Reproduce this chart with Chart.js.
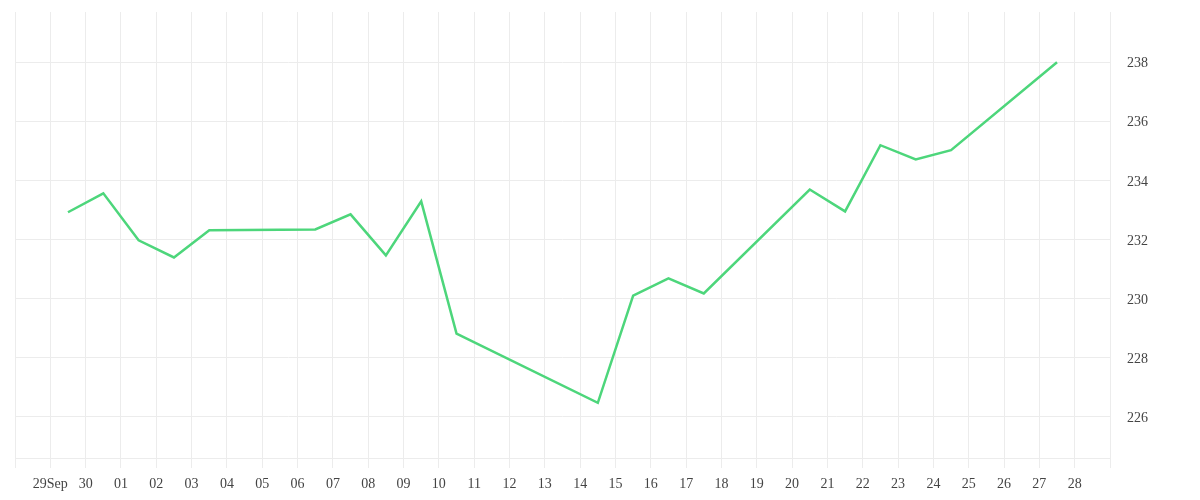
<!DOCTYPE html>
<html>
<head>
<meta charset="utf-8">
<script src="https://cdn.jsdelivr.net/npm/chart.js@4/dist/chart.umd.min.js"></script>
<style>
html,body{margin:0;padding:0;background:#fff;}
#wrap{width:1200px;height:500px;position:relative;}
</style>
</head>
<body>
<div id="wrap"><canvas id="c" width="1200" height="500"></canvas></div>
<script>
// Trading dates (point plotted at midday of each date)
const dates = ["2014-09-29","2014-09-30","2014-10-01","2014-10-02","2014-10-03",
  "2014-10-06","2014-10-07","2014-10-08","2014-10-09","2014-10-10",
  "2014-10-14","2014-10-15","2014-10-16","2014-10-17",
  "2014-10-20","2014-10-21","2014-10-22","2014-10-23","2014-10-24",
  "2014-10-27"];
const values = [232.92,233.56,231.97,231.39,232.31,
  232.34,232.85,231.46,233.29,228.81,
  226.47,230.10,230.68,230.17,
  233.69,232.95,235.19,234.71,235.02,
  238.00];
// x tick labels from 28 Sep (edge) to 29 Oct (edge)
const xTickLabels = ["","29Sep","30","01","02","03","04","05","06","07","08","09","10",
  "11","12","13","14","15","16","17","18","19","20","21","22","23","24","25","26","27","28",""];
const yTickValues = [226,228,230,232,234,236,238];

const origin = Date.UTC(2014,8,29);
const dayOf = s => { const p = s.split("-"); return (Date.UTC(+p[0], +p[1]-1, +p[2]) - origin)/86400000; };
const points = dates.map((d,i)=>({x: dayOf(d)+0.5, y: values[i]}));

const gridColor = "#ececec";
const font = {family:"'Liberation Serif', serif", size:14};

new Chart(document.getElementById("c"), {
  type: "line",
  data: { datasets: [{
    data: points,
    borderColor: "#4dd67b",
    borderWidth: 2.5,
    pointRadius: 0,
    tension: 0,
    fill: false
  }]},
  options: {
    responsive: false,
    animation: false,
    layout: { padding: { left: 15, top: 12, right: 0, bottom: 0 } },
    plugins: { legend: {display:false}, tooltip:{enabled:false} },
    scales: {
      x: {
        type: "linear",
        min: -1, max: 30,
        grid: { color: gridColor, tickLength: 10, drawTicks: true },
        border: { color: gridColor },
        ticks: {
          stepSize: 1, autoSkip: false, maxRotation: 0, padding: 8,
          color: "#444", font: font,
          callback: v => xTickLabels[Math.round(v)+1]
        },
        afterFit: s => { s.height = 42; s.paddingLeft = 0; s.paddingRight = 0; }
      },
      y: {
        position: "right",
        min: 224.6, max: 239.7,
        grid: { color: gridColor, drawTicks: false },
        border: { color: gridColor },
        afterBuildTicks: s => { s.ticks = yTickValues.map(v=>({value:v})); },
        ticks: { padding: 17, labelOffset: 1.5, color: "#444", font: font, callback: v => String(v) },
        afterFit: s => { s.width = 90; s.paddingTop = 0; s.paddingBottom = 0; }
      }
    }
  }
});
</script>
</body>
</html>
